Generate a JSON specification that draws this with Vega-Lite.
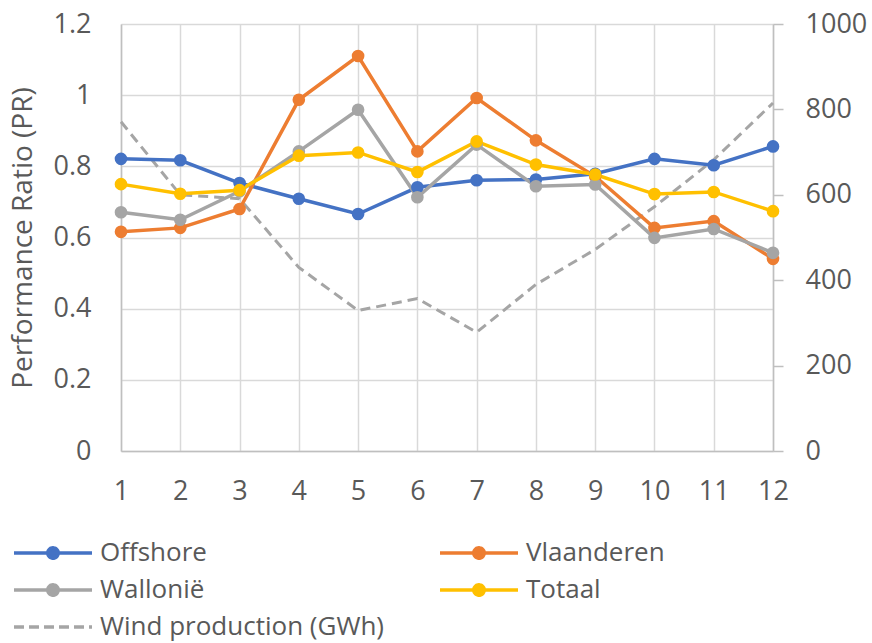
{
  "$schema": "https://vega.github.io/schema/vega-lite/v6.json",
  "autosize": "none",
  "width": 652,
  "height": 427,
  "padding": {"left": 121, "top": 24, "right": 99, "bottom": 192},
  "background": "white",
  "config": {
    "view": {"stroke": null},
    "font": "Open Sans",
    "axis": {"labelFont": "Open Sans", "titleFont": "Open Sans", "labelColor": "#595959", "titleColor": "#595959", "labelFontSize": 27, "titleFontSize": 28, "titleFontWeight": "normal"}
  },
  "data": {
    "values": [
      {"month": 1, "series": "Offshore", "value": 0.821},
      {"month": 2, "series": "Offshore", "value": 0.817},
      {"month": 3, "series": "Offshore", "value": 0.753},
      {"month": 4, "series": "Offshore", "value": 0.709},
      {"month": 5, "series": "Offshore", "value": 0.666},
      {"month": 6, "series": "Offshore", "value": 0.741},
      {"month": 7, "series": "Offshore", "value": 0.761},
      {"month": 8, "series": "Offshore", "value": 0.763},
      {"month": 9, "series": "Offshore", "value": 0.779},
      {"month": 10, "series": "Offshore", "value": 0.821},
      {"month": 11, "series": "Offshore", "value": 0.803},
      {"month": 12, "series": "Offshore", "value": 0.856},
      {"month": 1, "series": "Vlaanderen", "value": 0.616},
      {"month": 2, "series": "Vlaanderen", "value": 0.627},
      {"month": 3, "series": "Vlaanderen", "value": 0.680},
      {"month": 4, "series": "Vlaanderen", "value": 0.987},
      {"month": 5, "series": "Vlaanderen", "value": 1.110},
      {"month": 6, "series": "Vlaanderen", "value": 0.842},
      {"month": 7, "series": "Vlaanderen", "value": 0.992},
      {"month": 8, "series": "Vlaanderen", "value": 0.873},
      {"month": 9, "series": "Vlaanderen", "value": 0.772},
      {"month": 10, "series": "Vlaanderen", "value": 0.627},
      {"month": 11, "series": "Vlaanderen", "value": 0.646},
      {"month": 12, "series": "Vlaanderen", "value": 0.540},
      {"month": 1, "series": "Wallonië", "value": 0.671},
      {"month": 2, "series": "Wallonië", "value": 0.650},
      {"month": 3, "series": "Wallonië", "value": 0.730},
      {"month": 4, "series": "Wallonië", "value": 0.842},
      {"month": 5, "series": "Wallonië", "value": 0.959},
      {"month": 6, "series": "Wallonië", "value": 0.713},
      {"month": 7, "series": "Wallonië", "value": 0.861},
      {"month": 8, "series": "Wallonië", "value": 0.744},
      {"month": 9, "series": "Wallonië", "value": 0.749},
      {"month": 10, "series": "Wallonië", "value": 0.599},
      {"month": 11, "series": "Wallonië", "value": 0.624},
      {"month": 12, "series": "Wallonië", "value": 0.557},
      {"month": 1, "series": "Totaal", "value": 0.750},
      {"month": 2, "series": "Totaal", "value": 0.723},
      {"month": 3, "series": "Totaal", "value": 0.733},
      {"month": 4, "series": "Totaal", "value": 0.830},
      {"month": 5, "series": "Totaal", "value": 0.839},
      {"month": 6, "series": "Totaal", "value": 0.784},
      {"month": 7, "series": "Totaal", "value": 0.870},
      {"month": 8, "series": "Totaal", "value": 0.805},
      {"month": 9, "series": "Totaal", "value": 0.777},
      {"month": 10, "series": "Totaal", "value": 0.722},
      {"month": 11, "series": "Totaal", "value": 0.728},
      {"month": 12, "series": "Totaal", "value": 0.674},
      {"month": 1, "series": "Wind production (GWh)", "value": 771},
      {"month": 2, "series": "Wind production (GWh)", "value": 600},
      {"month": 3, "series": "Wind production (GWh)", "value": 591},
      {"month": 4, "series": "Wind production (GWh)", "value": 430},
      {"month": 5, "series": "Wind production (GWh)", "value": 329},
      {"month": 6, "series": "Wind production (GWh)", "value": 357},
      {"month": 7, "series": "Wind production (GWh)", "value": 278},
      {"month": 8, "series": "Wind production (GWh)", "value": 390},
      {"month": 9, "series": "Wind production (GWh)", "value": 472},
      {"month": 10, "series": "Wind production (GWh)", "value": 572},
      {"month": 11, "series": "Wind production (GWh)", "value": 682},
      {"month": 12, "series": "Wind production (GWh)", "value": 815}
    ]
  },
  "encoding": {
    "x": {
      "field": "month", "type": "quantitative",
      "scale": {"domain": [1, 12], "nice": false, "zero": false},
      "axis": {"title": null, "values": [1,2,3,4,5,6,7,8,9,10,11,12], "grid": true, "gridColor": "#D9D9D9", "gridWidth": 1.5, "domainColor": "#BFBFBF", "domainWidth": 1.5, "ticks": false, "labelPadding": 27, "labelFlush": false}
    },
    "color": {
      "field": "series", "type": "nominal",
      "scale": {
        "domain": ["Offshore", "Vlaanderen", "Wallonië", "Totaal", "Wind production (GWh)"],
        "range": ["#4472C4", "#ED7D31", "#A5A5A5", "#FFC000", "#A5A5A5"]
      },
      "legend": {
        "orient": "none", "legendX": -81, "legendY": 516, "direction": "horizontal",
        "title": null, "columns": 2, "columnPadding": 48, "rowPadding": 11,
        "symbolType": "M-3,0H3", "symbolSize": 169, "symbolStrokeWidth": 3.5,
        "symbolOffset": 0, "labelOffset": 34,
        "labelFont": "Open Sans", "labelFontSize": 26, "labelColor": "#595959", "labelLimit": 400,
        "encode": {
          "symbols": {
            "update": {
              "shape": {"signal": "datum.value === 'Wind production (GWh)' ? 'M-6,0H6' : 'M-6,0H6M-0.8,0A0.8,0.8 0 1,1 0.8,0A0.8,0.8 0 1,1 -0.8,0'"},
              "strokeDash": {"signal": "datum.value === 'Wind production (GWh)' ? [10,5] : [1,0]"},
              "fill": {"scale": "color", "field": "value"},
              "stroke": {"scale": "color", "field": "value"},
              "strokeWidth": {"value": 3.5}
            }
          }
        }
      }
    }
  },
  "layer": [
    {
      "transform": [{"filter": "datum.series === 'Wind production (GWh)'"}],
      "mark": {"type": "line", "strokeWidth": 3, "strokeDash": [10, 6]},
      "encoding": {
        "y": {
          "field": "value", "type": "quantitative",
          "scale": {"domain": [0, 1000], "nice": false},
          "axis": {"orient": "right", "title": null, "values": [0,200,400,600,800,1000], "format": "d", "grid": false, "domainColor": "#BFBFBF", "domainWidth": 1.5, "tickColor": "#BFBFBF", "tickWidth": 1.5, "tickSize": 10, "labelPadding": 22}
        }
      }
    },
    {
      "transform": [{"filter": "datum.series !== 'Wind production (GWh)'"}],
      "mark": {"type": "line", "strokeWidth": 3.5, "point": {"filled": true, "size": 160, "opacity": 1}},
      "encoding": {
        "y": {
          "field": "value", "type": "quantitative",
          "scale": {"domain": [0, 1.2], "nice": false},
          "axis": {"orient": "left", "title": "Performance Ratio (PR)", "values": [0,0.2,0.4,0.6,0.8,1,1.2], "format": "~g", "grid": true, "gridColor": "#D9D9D9", "gridWidth": 1.5, "domainColor": "#BFBFBF", "domainWidth": 1.5, "ticks": false, "labelPadding": 30, "titlePadding": 16}
        }
      }
    }
  ],
  "resolve": {"scale": {"y": "independent"}}
}
